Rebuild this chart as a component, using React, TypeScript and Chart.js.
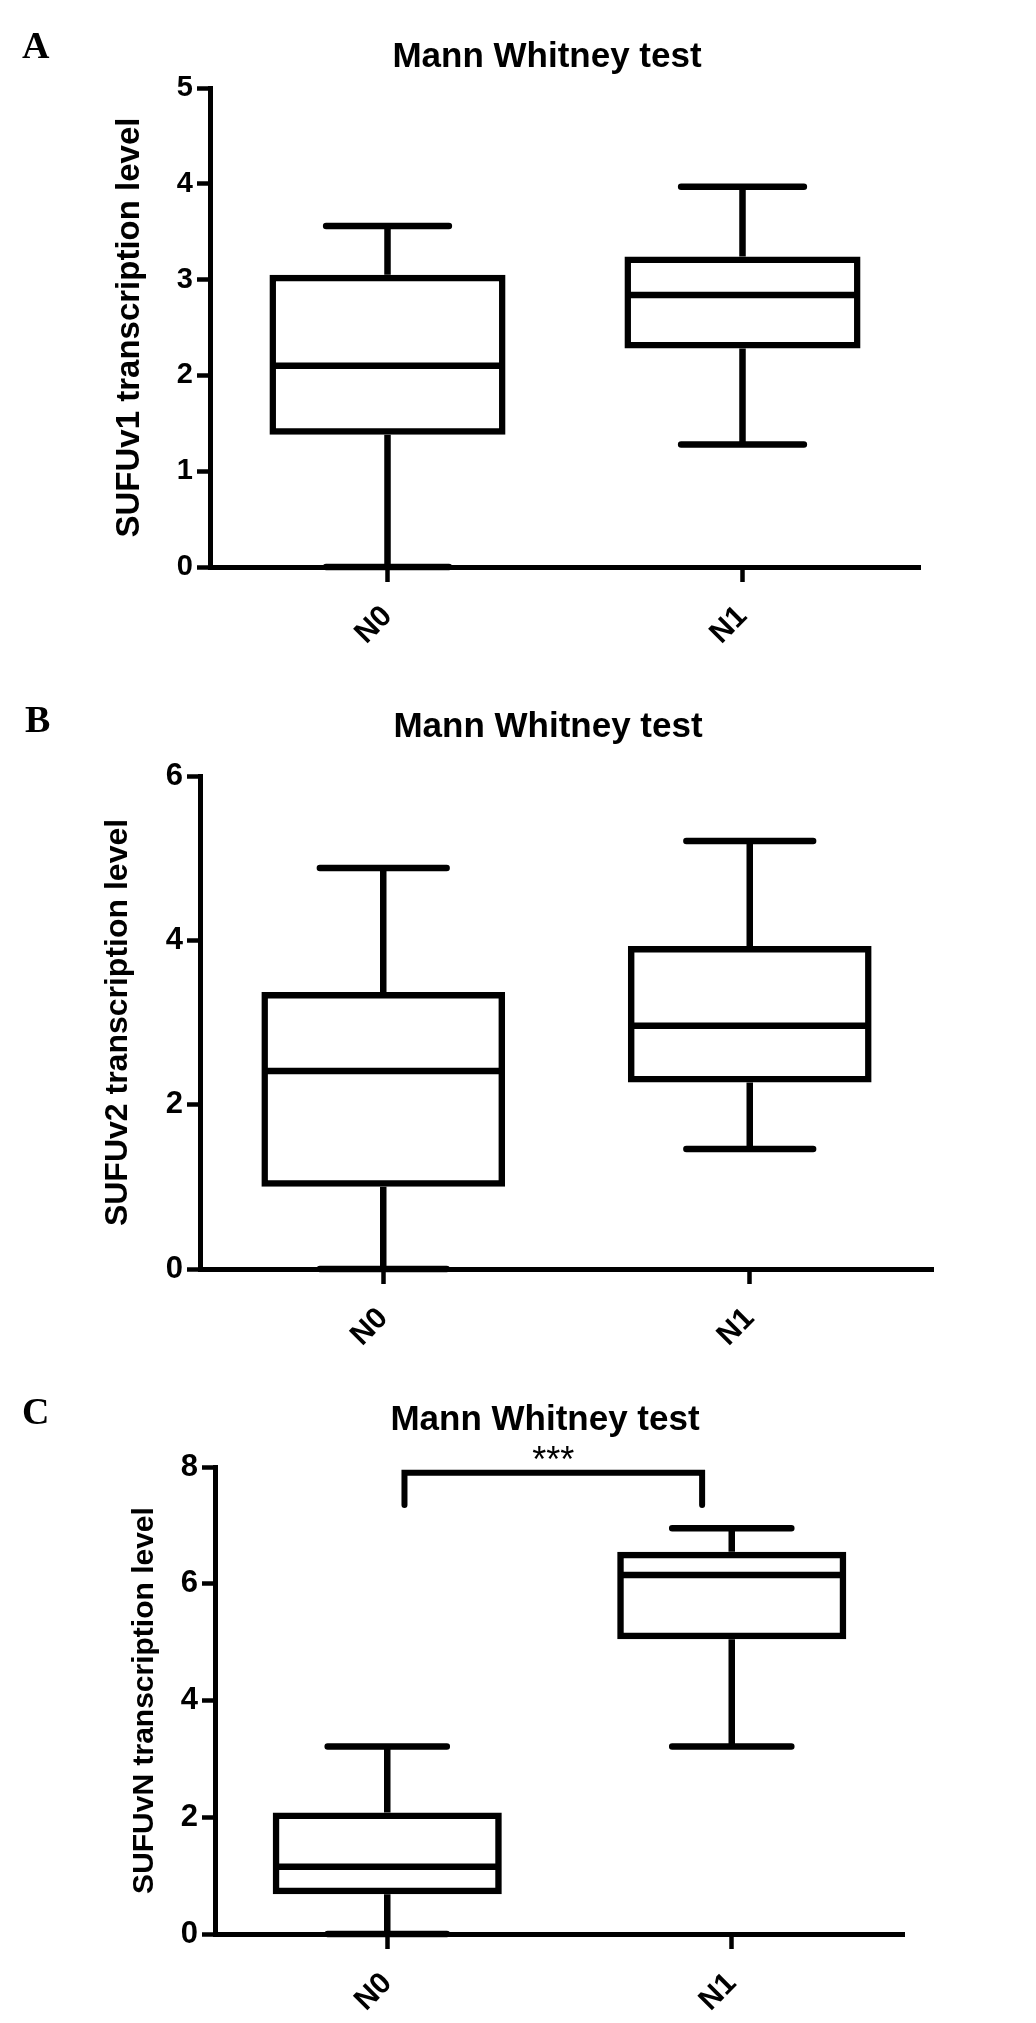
import React, { useEffect, useRef } from "react";
import { Chart, registerables } from "chart.js";

Chart.register(...registerables);
Chart.defaults.font.family = "'Liberation Sans', Arial, sans-serif";
Chart.defaults.color = "#000";

// ---------- data ----------
const categories = ["N0", "N1"];
const chartTitle = "Mann Whitney test";

// Panel A – SUFUv1
const v1Min = [0, 1.28];
const v1Q1 = [1.38, 2.28];
const v1Median = [2.1, 2.84];
const v1Q3 = [3.05, 3.24];
const v1Max = [3.56, 3.97];
const v1Ticks = [0, 1, 2, 3, 4, 5];

// Panel B – SUFUv2
const v2Min = [0, 1.46];
const v2Q1 = [1.0, 2.27];
const v2Median = [2.41, 2.96];
const v2Q3 = [3.37, 3.93];
const v2Max = [4.88, 5.21];
const v2Ticks = [0, 2, 4, 6];

// Panel C – SUFUvN
const vNMin = [0, 3.21];
const vNQ1 = [0.68, 5.05];
const vNMedian = [1.15, 6.15];
const vNQ3 = [2.08, 6.55];
const vNMax = [3.21, 6.95];
const vNTicks = [0, 2, 4, 6, 8];

// significance bracket (panel C): pair of categories, level and leg end
const sigPair = [0, 1];
const sigLevel = 7.9;
const sigLegEnd = 7.35;
const sigLabel = "***";

// ---------- styling ----------
interface PanelDef {
  letter: string;
  yTitle: string;
  min: number[];
  q1: number[];
  median: number[];
  q3: number[];
  max: number[];
  ticks: number[];
  top: number;
  height: number;
  letterX: number;
  letterBase: number;
  titleX: number;
  titleBase: number;
  areaLeft: number;
  areaRight: number;
  areaTop: number;
  areaBottom: number;
  yTitleSize: number;
  yTitleCenter: number;
  tickSize: number;
  xLabelSize: number;
  bracket: boolean;
}

const PAGE_W = 1036;
const LINE = 6.5;
const AXIS = 5;

const panels: PanelDef[] = [
  {
    letter: "A", yTitle: "SUFUv1 transcription level",
    min: v1Min, q1: v1Q1, median: v1Median, q3: v1Q3, max: v1Max, ticks: v1Ticks,
    top: 0, height: 680, letterX: 22, letterBase: 58, titleX: 547, titleBase: 67,
    areaLeft: 210, areaRight: 920, areaTop: 88, areaBottom: 567,
    yTitleSize: 33, yTitleCenter: 130, tickSize: 29, xLabelSize: 30, bracket: false,
  },
  {
    letter: "B", yTitle: "SUFUv2 transcription level",
    min: v2Min, q1: v2Q1, median: v2Median, q3: v2Q3, max: v2Max, ticks: v2Ticks,
    top: 680, height: 690, letterX: 25, letterBase: 52, titleX: 548, titleBase: 57,
    areaLeft: 200, areaRight: 933, areaTop: 96, areaBottom: 589,
    yTitleSize: 32, yTitleCenter: 118, tickSize: 31, xLabelSize: 30, bracket: false,
  },
  {
    letter: "C", yTitle: "SUFUvN transcription level",
    min: vNMin, q1: vNQ1, median: vNMedian, q3: vNQ3, max: vNMax, ticks: vNTicks,
    top: 1370, height: 653, letterX: 22, letterBase: 54, titleX: 545, titleBase: 60,
    areaLeft: 215, areaRight: 904, areaTop: 97, areaBottom: 564,
    yTitleSize: 30, yTitleCenter: 145, tickSize: 31, xLabelSize: 30, bracket: true,
  },
];

function boxPlugin(p: PanelDef) {
  return {
    id: "boxWhiskers" + p.letter,
    afterDatasetsDraw(chart: any) {
      const ctx = chart.ctx;
      const ys = chart.scales.y;
      const xs = chart.scales.x;
      const meta = chart.getDatasetMeta(0);
      ctx.save();
      ctx.strokeStyle = "#000";
      ctx.lineWidth = LINE;
      meta.data.forEach((bar: any, i: number) => {
        const { x, width } = bar.getProps(["x", "width"], true);
        const half = width / 2;
        const capHalf = half * 0.52;
        const yMed = ys.getPixelForValue(p.median[i]);
        const yQ1 = ys.getPixelForValue(p.q1[i]);
        const yQ3 = ys.getPixelForValue(p.q3[i]);
        const yMin = ys.getPixelForValue(p.min[i]);
        const yMax = ys.getPixelForValue(p.max[i]);
        // median
        ctx.lineCap = "butt";
        ctx.beginPath();
        ctx.moveTo(x - half + 1, yMed);
        ctx.lineTo(x + half - 1, yMed);
        ctx.stroke();
        // whiskers
        ctx.beginPath();
        ctx.moveTo(x, yQ3);
        ctx.lineTo(x, yMax);
        ctx.moveTo(x, yQ1);
        ctx.lineTo(x, yMin);
        ctx.stroke();
        // caps
        ctx.lineCap = "round";
        ctx.beginPath();
        ctx.moveTo(x - capHalf, yMax);
        ctx.lineTo(x + capHalf, yMax);
        ctx.moveTo(x - capHalf, yMin);
        ctx.lineTo(x + capHalf, yMin);
        ctx.stroke();
      });
      if (p.bracket) {
        const x1 = xs.getPixelForValue(sigPair[0] + 0.05);
        const x2 = xs.getPixelForValue(sigPair[1] - 0.086);
        const yTop = ys.getPixelForValue(sigLevel);
        const yLeg = ys.getPixelForValue(sigLegEnd);
        ctx.lineCap = "round";
        ctx.lineJoin = "miter";
        ctx.lineWidth = 6;
        ctx.beginPath();
        ctx.moveTo(x1, yLeg);
        ctx.lineTo(x1, yTop);
        ctx.lineTo(x2, yTop);
        ctx.lineTo(x2, yLeg);
        ctx.stroke();
        ctx.fillStyle = "#000";
        ctx.font = "36px 'Liberation Sans', Arial, sans-serif";
        ctx.textAlign = "center";
        ctx.textBaseline = "alphabetic";
        ctx.fillText(sigLabel, (x1 + x2) / 2, yTop - 1);
      }
      ctx.restore();
    },
    afterDraw(chart: any) {
      const ctx = chart.ctx;
      ctx.save();
      ctx.fillStyle = "#000";
      ctx.textBaseline = "alphabetic";
      ctx.textAlign = "left";
      ctx.font = "bold 38px 'Liberation Serif', 'Times New Roman', serif";
      ctx.fillText(p.letter, p.letterX, p.letterBase);
      ctx.textAlign = "center";
      ctx.font = "bold 35px 'Liberation Sans', Arial, sans-serif";
      ctx.fillText(chartTitle, p.titleX, p.titleBase);
      ctx.restore();
    },
  };
}

function Panel({ p }: { p: PanelDef }) {
  const ref = useRef<HTMLCanvasElement | null>(null);
  useEffect(() => {
    if (!ref.current) return;
    const chart = new Chart(ref.current, {
      type: "bar",
      data: {
        labels: categories,
        datasets: [
          {
            data: p.q1.map((v, i) => [v, p.q3[i]]) as any,
            backgroundColor: "rgba(0,0,0,0)",
            borderColor: "#000",
            borderWidth: LINE,
            borderSkipped: false,
            barPercentage: 0.665,
            categoryPercentage: 1,
          },
        ],
      },
      options: {
        responsive: true,
        maintainAspectRatio: false,
        animation: false,
        layout: {
          padding: { left: 0, top: p.areaTop, right: PAGE_W - p.areaRight, bottom: 0 },
        },
        plugins: {
          legend: { display: false },
          tooltip: { enabled: false },
          title: { display: false },
        },
        scales: {
          x: {
            type: "category",
            offset: true,
            grid: {
              display: true,
              offset: false,
              drawOnChartArea: false,
              drawTicks: true,
              tickLength: 15,
              tickWidth: 4.5,
              tickColor: "#000",
              color: "#000",
            },
            border: { display: true, color: "#000", width: AXIS },
            ticks: {
              color: "#000",
              font: { size: p.xLabelSize, weight: "bold" },
              minRotation: 45,
              maxRotation: 45,
              padding: 17,
              autoSkip: false,
            },
            afterFit: (s: any) => {
              s.height = p.height - p.areaBottom;
            },
          },
          y: {
            type: "linear",
            min: p.ticks[0],
            max: p.ticks[p.ticks.length - 1],
            afterBuildTicks: (s: any) => {
              s.ticks = p.ticks.map((v) => ({ value: v }));
            },
            grid: {
              display: true,
              drawOnChartArea: false,
              drawTicks: true,
              tickLength: 13,
              tickWidth: 4.5,
              tickColor: "#000",
              color: "#000",
            },
            border: { display: true, color: "#000", width: AXIS },
            ticks: {
              color: "#000",
              font: { size: p.tickSize, weight: "bold" },
              padding: 4,
            },
            title: {
              display: true,
              text: p.yTitle,
              color: "#000",
              font: { size: p.yTitleSize, weight: "bold" },
              padding: { top: p.yTitleCenter - (p.yTitleSize * 1.2) / 2, bottom: 0 },
            },
            afterFit: (s: any) => {
              s.width = p.areaLeft;
            },
          },
        },
      } as any,
      plugins: [boxPlugin(p)],
    });
    return () => chart.destroy();
  }, [p]);
  return (
    <div
      style={{
        position: "absolute",
        left: 0,
        top: p.top,
        width: PAGE_W,
        height: p.height,
      }}
    >
      <canvas ref={ref} />
    </div>
  );
}

export default function App() {
  return (
    <div
      style={{
        position: "absolute",
        left: 0,
        top: 0,
        width: PAGE_W,
        height: 2023,
        background: "#fff",
        overflow: "hidden",
      }}
    >
      {panels.map((p) => (
        <Panel key={p.letter} p={p} />
      ))}
    </div>
  );
}
